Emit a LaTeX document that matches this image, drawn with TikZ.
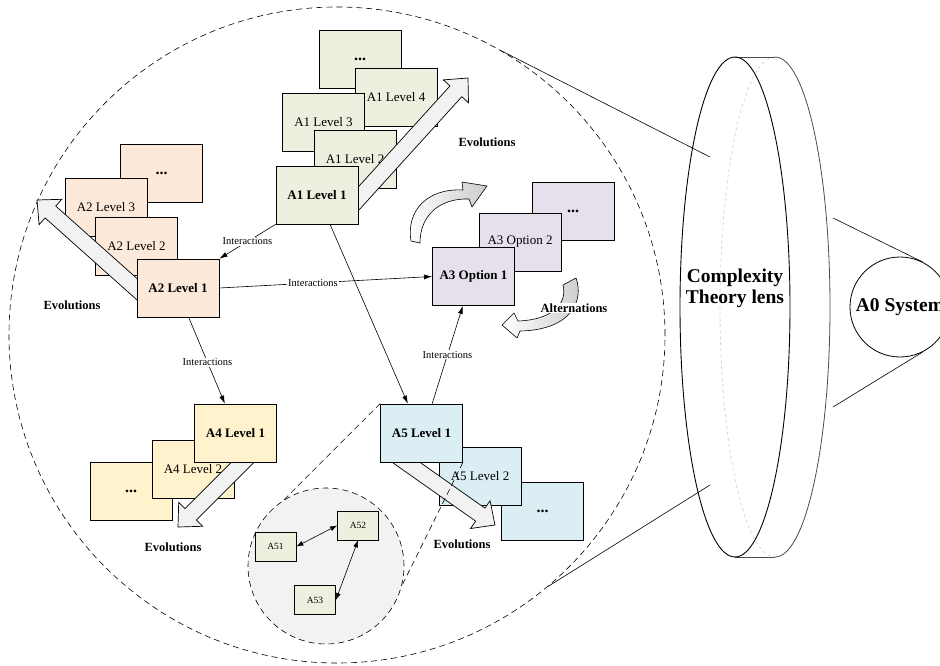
\documentclass[tikz,border=0pt]{standalone}
\usepackage{fontspec}
\setmainfont{Liberation Serif}
\usetikzlibrary{shapes,arrows.meta,calc}

\definecolor{aonefill}{HTML}{EBF1DE}
\definecolor{atwofill}{HTML}{FDE9D9}
\definecolor{athreefill}{HTML}{E5E0EC}
\definecolor{afourfill}{HTML}{FFF2CC}
\definecolor{afivefill}{HTML}{DBEEF3}
\definecolor{zoomfill}{HTML}{F2F2F2}

% block arrow from a tail point to a tip point
\newcommand{\evolarrow}[2]{%
  \path (#1) coordinate (evt) (#2) coordinate (evp) ($(evp)!18pt!(evt)$) coordinate (evh);
  \filldraw[evol] ($(evt)!8pt!90:(evp)$) -- ($(evh)!8pt!90:(evp)$) -- ($(evh)!17pt!90:(evp)$) -- (evp)
    -- ($(evh)!17pt!-90:(evp)$) -- ($(evh)!8pt!-90:(evp)$) -- ($(evt)!8pt!-90:(evp)$) -- cycle;
}
\newcommand{\moredots}{{\fontsize{16}{16}\selectfont\bfseries ...}}

\begin{document}
\begin{tikzpicture}[x=1pt,y=-1pt]
    \tikzset{
        box/.style = {rectangle, draw=black, line width=0.8pt, minimum width=82pt, minimum height=58pt, inner sep=0pt, font=\fontsize{13}{15}\selectfont},
        lvl/.style = {box, font=\fontsize{13}{15}\selectfont\bfseries},
        small/.style = {rectangle, draw=black, line width=0.7pt, fill=aonefill, minimum width=41pt, minimum height=29pt, inner sep=0pt, font=\fontsize{9.5}{11}\selectfont},
        link/.style = {draw, line width=0.6pt, -{Latex[length=8pt,width=5pt]}},
        dlink/.style = {draw, line width=0.6pt, {Latex[length=7pt,width=5pt]}-{Latex[length=7pt,width=5pt]}},
        inter/.style = {fill=white, inner sep=1pt, font=\fontsize{10.5}{12}\selectfont},
        tag/.style = {fill=white, inner sep=1pt, font=\fontsize{12.5}{14}\selectfont\bfseries},
        evol/.style = {draw=black, line width=0.7pt, fill=zoomfill},
        altarrow/.style = {draw=black, line width=0.6pt, left color=white, right color=gray!40},
        zoomline/.style = {draw, line width=0.6pt, dash pattern=on 6pt off 4pt},
    }

    \useasboundingbox (0,0) rectangle (940,666);

    \node[circle, zoomline, minimum size=656pt, inner sep=0pt](view) at (337,335){};

    % A2
    \node[box, fill=atwofill](a2dots) at (161.5,173){\moredots};
    \node[box, fill=atwofill](a2l3) at (106,207){A2 Level 3};
    \node[box, fill=atwofill](a2l2) at (136.5,246.5){A2 Level 2};
    \coordinate (a2tail) at (158,308);
    \coordinate (a2tip) at (37,200);
    \evolarrow{a2tail}{a2tip}
    \node[lvl, fill=atwofill](a2l1) at (178,288){A2 Level 1};
    \node[tag](a2evo) at (72,305){Evolutions};

    % A1
    \node[box, fill=aonefill](a1dots) at (360,59){\moredots};
    \node[box, fill=aonefill](a1l4) at (396,97){A1 Level 4};
    \node[box, fill=aonefill](a1l3) at (323.5,122){A1 Level 3};
    \node[box, fill=aonefill](a1l2) at (355,159){A1 Level 2};
    \coordinate (a1tail) at (340,219);
    \coordinate (a1tip) at (468,78);
    \evolarrow{a1tail}{a1tip}
    \node[lvl, fill=aonefill](a1l1) at (317,195){A1 Level 1};
    \node[tag](a1evo) at (487,142){Evolutions};

    % A3
    \node[box, fill=athreefill](a3dots) at (573,211){\moredots};
    \node[box, fill=athreefill](a3o2) at (520,242){A3 Option 2};
    \node[lvl, fill=athreefill](a3o1) at (473.5,276.5){A3 Option 1};
    \path[altarrow] (411,241) .. controls (406,210) and (428,188) .. (463,190) -- (462,182) -- (487,186)
        -- (472,207) -- (469,199) .. controls (440,198) and (420,215) .. (420,243) -- cycle;
    \path[altarrow] (563,285) -- (576,278) .. controls (584,300) and (572,330) .. (520,331) -- (517,338)
        -- (502,325) -- (514,313) -- (518,321) .. controls (550,320) and (568,305) .. (563,285) -- cycle;
    \node[tag](a3alt) at (574,308){Alternations};

    % A4
    \node[box, fill=afourfill](a4dots) at (131,491){\moredots};
    \node[box, fill=afourfill](a4l2) at (193,469.5){A4 Level 2};
    \coordinate (a4tail) at (258,447);
    \coordinate (a4tip) at (178,527);
    \evolarrow{a4tail}{a4tip}
    \node[lvl, fill=afourfill](a4l1) at (235.5,433){A4 Level 1};
    \node[tag](a4evo) at (173,547){Evolutions};

    % A5
    \node[box, fill=afivefill](a5dots) at (542.5,511){\moredots};
    \node[box, fill=afivefill](a5l2) at (480,476){A5 Level 2};
    \node[circle, zoomline, fill=zoomfill, minimum size=156pt, inner sep=0pt](a5zoom) at (326,566){};
    \coordinate (a5tail) at (390,451);
    \coordinate (a5tip) at (495,525);
    \evolarrow{a5tail}{a5tip}
    \node[lvl, fill=afivefill](a5l1) at (421.5,433){A5 Level 1};
    \path[zoomline] (a5l1.north west) -- (a5zoom.123);
    \path[zoomline] (a5l1.south east) -- (a5zoom.-15);
    \node[tag](a5evo) at (462,544){Evolutions};

    \node[small](a51) at (275.5,546.5){A51};
    \node[small](a52) at (358,525.5){A52};
    \node[small](a53) at (315,600){A53};
    \path [dlink] (a51.east) -- (a52.west);
    \path [dlink] (a52.south) -- (a53.east);

    % interactions
    \path [link] (a1l1.south west) -- node[inter]{Interactions} (a2l1.north east);
    \path [link] (a2l1.east) -- node[inter, pos=0.44]{Interactions} (a3o1.west);
    \path [link] (a2l1.-70) -- node[inter, pos=0.52]{Interactions} (a4l1.110);
    \path [link] (a1l1.-66) -- (a5l1.115);
    \path [link] (a5l1.70) -- node[inter]{Interactions} (a3o1.-110);

    % lens
    \coordinate (lensin1) at (710,157);
    \coordinate (lensin2) at (710,485);
    \draw[line width=0.6pt] (view.60) -- (lensin1);
    \draw[line width=0.6pt] (view.-50) -- (lensin2);
    \draw[gray!30, dashed, line width=0.9pt] (775,57) arc[start angle=-90, end angle=-270, x radius=55, y radius=250];
    \draw[black!70, line width=0.8pt] (775,57) arc[start angle=-90, end angle=90, x radius=55, y radius=250];
    \draw[black!70, line width=0.8pt] (735,57) -- (775,57) (735,557) -- (775,557);
    \node[ellipse, draw, line width=0.9pt, minimum width=110pt, minimum height=500pt, inner sep=0pt](lens) at (735,307){};
    \node[font=\fontsize{19.5}{21}\selectfont\bfseries, align=center](lenstext) at (735,288){Complexity\\Theory lens};

    % system
    \node[circle, draw, line width=0.8pt, minimum size=100pt, inner sep=0pt, font=\fontsize{19.5}{21}\selectfont\bfseries](a0) at (900,307){A0 System};
    \coordinate (lensout1) at (833,218);
    \coordinate (lensout2) at (833,407);
    \draw[line width=0.6pt] (lensout1) -- (a0.63);
    \draw[line width=0.6pt] (lensout2) -- (a0.-63);

\end{tikzpicture}
\end{document}
